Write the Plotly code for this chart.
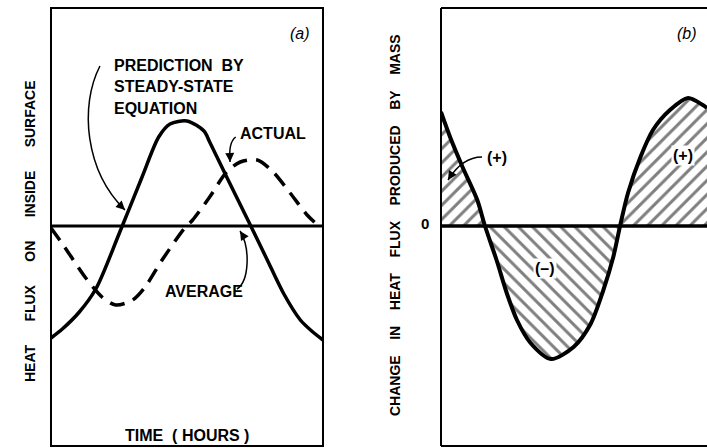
import plotly.graph_objects as go

# (a) heat flux on inside surface, hours vs. arbitrary flux units (0 = average)
pred_hours = [0, 1, 2.5, 4, 6, 8, 9.5, 10.5, 12, 13.5, 14, 15.5, 17.5, 19, 20.5, 22, 23, 24]
pred_flux = [-11.2, -10.3, -8.6, -6.2, -0.8, 4.8, 8.9, 10.2, 10.5, 9.5, 8.4, 4.9, 0.3, -3.2, -6.7, -9.4, -10.5, -11.4]

actual_hours = [0, 1.2, 3.0, 4.5, 5.7, 7.2, 8.3, 9.8, 11.8, 12.5, 14.0, 15.5, 16.7, 18.2, 19.6, 21.1, 22.6, 23.7]
actual_flux = [-0.2, -2.1, -5.1, -7.1, -7.9, -7.4, -6.1, -3.4, -0.2, 0.6, 2.9, 5.4, 6.4, 6.6, 5.4, 3.3, 1.1, -0.1]

# (b) change in heat flux produced by mass
mass_hours = [0, 0.8, 1.9, 3.2, 3.88, 4.9, 5.8, 6.7, 7.9, 9.7, 11.7, 13.2, 14.3, 15.2, 15.8, 16.5, 17.6, 18.7, 20.2, 21.8, 23.1, 23.47]
mass_change = [11.4, 8.9, 5.9, 2.6, 0, -3.4, -6.7, -9.4, -11.7, -13.3, -12.1, -9.8, -6.5, -3.1, 0, 3.3, 6.9, 9.6, 11.6, 12.8, 12.1, 11.8]

FONT = "Liberation Sans"
Y_RANGE = [-22, 21.8]


def signed_runs(xs, ys):
    # split the curve into runs of one sign; zero crossings belong to both sides
    runs, cur = [], [(xs[0], ys[0])]
    for x, y in zip(xs[1:], ys[1:]):
        cur.append((x, y))
        if y == 0:
            runs.append(cur)
            cur = [(x, y)]
    if len(cur) > 1:
        runs.append(cur)
    return runs


fig = go.Figure()

# hatched areas in (b)
for run in signed_runs(mass_hours, mass_change):
    xs = [p[0] for p in run]
    ys = [p[1] for p in run]
    shape = "/" if max(ys) > 0 else "\\"
    fig.add_trace(go.Scatter(
        x=xs, y=ys, xaxis="x2", yaxis="y2", mode="lines",
        line={"width": 0, "shape": "spline", "smoothing": 0.8},
        fill="tozeroy", fillcolor="white",
        fillpattern={"shape": shape, "fgcolor": "black", "bgcolor": "white", "size": 10, "solidity": 0.3},
        hoverinfo="skip",
    ))

fig.add_trace(go.Scatter(
    x=mass_hours, y=mass_change, xaxis="x2", yaxis="y2", mode="lines",
    line={"color": "black", "width": 4, "shape": "spline", "smoothing": 0.8},
))

fig.add_trace(go.Scatter(
    x=pred_hours, y=pred_flux, mode="lines",
    line={"color": "black", "width": 3.5, "shape": "spline", "smoothing": 0.8},
))
fig.add_trace(go.Scatter(
    x=actual_hours, y=actual_flux, mode="lines",
    line={"color": "black", "width": 3.5, "dash": "15px,9px", "shape": "spline", "smoothing": 0.8},
))

shapes = [
    # panel frames
    dict(type="rect", xref="x domain", yref="y domain", x0=0, x1=1, y0=0, y1=1, line={"color": "black", "width": 2}),
    dict(type="line", xref="x2 domain", yref="y2 domain", x0=0, x1=0, y0=0, y1=1, line={"color": "black", "width": 2}),
    dict(type="line", xref="x2 domain", yref="y2 domain", x0=0, x1=1, y0=1, y1=1, line={"color": "black", "width": 2}),
    dict(type="line", xref="x2 domain", yref="y2 domain", x0=0, x1=1, y0=0, y1=0, line={"color": "black", "width": 2}),
    # average / zero lines
    dict(type="line", xref="x domain", yref="y", x0=0, x1=1, y0=0, y1=0, line={"color": "black", "width": 3}),
    dict(type="line", xref="x2 domain", yref="y2", x0=0, x1=1, y0=0, y1=0, line={"color": "black", "width": 3.5}),
    # curved leader lines
    dict(type="path", xref="x", yref="y", path="M 4.32,16.0 C 2.5,12 3.0,5.5 6.53,1.6", line={"color": "black", "width": 1.5}),
    dict(type="path", xref="x", yref="y", path="M 16.3,8.9 C 15.8,8.5 15.7,7.6 15.8,6.4", line={"color": "black", "width": 1.5}),
    dict(type="path", xref="x", yref="y", path="M 16.41,-6.3 C 17.5,-5.5 17.6,-2.2 16.68,-0.5", line={"color": "black", "width": 1.5}),
    dict(type="path", xref="x2", yref="y2", path="M 3.62,6.9 C 2.6,6.9 1.5,6.2 0.62,4.6", line={"color": "black", "width": 1.5}),
]

txt = {"family": FONT, "size": 16, "color": "black", "weight": "bold"}
ttl = {"family": FONT, "size": 14, "color": "black", "weight": "bold"}
ital = {"family": FONT, "size": 16, "color": "black"}
annotations = [
    dict(xref="x", yref="y", x=5.38, y=16.1, text="PREDICTION\u00a0\u00a0BY", xanchor="left", showarrow=False, font=txt),
    dict(xref="x", yref="y", x=5.38, y=14.0, text="STEADY-STATE", xanchor="left", showarrow=False, font=txt),
    dict(xref="x", yref="y", x=5.38, y=11.8, text="EQUATION", xanchor="left", showarrow=False, font=txt),
    dict(xref="x", yref="y", x=16.5, y=9.3, text="ACTUAL", xanchor="left", showarrow=False, font=txt),
    dict(xref="x", yref="y", x=9.88, y=-6.5, text="AVERAGE", xanchor="left", showarrow=False, font=txt),
    dict(xref="x", yref="y", x=12.0, y=-20.9, text="TIME\u00a0\u00a0(\u00a0HOURS\u00a0)", showarrow=False, font=txt),
    dict(xref="x", yref="y", x=21.97, y=19.3, text="<i>(a)</i>", showarrow=False, font=ital),
    dict(xref="x2", yref="y2", x=21.7, y=19.3, text="<i>(b)</i>", showarrow=False, font=ital),
    dict(xref="x2", yref="y2", x=4.94, y=6.9, text="(+)", showarrow=False, font=txt),
    dict(xref="x2", yref="y2", x=21.35, y=7.1, text="(+)", showarrow=False, font=txt, bgcolor="white"),
    dict(xref="x2", yref="y2", x=9.18, y=-4.2, text="(\u2013)", showarrow=False, font=txt, bgcolor="white"),
    dict(xref="paper", yref="y", x=20 / 707, y=-0.5, textangle=-90, showarrow=False, font=ttl,
         text=("\u00a0" * 6).join(["HEAT", "FLUX", "ON", "INSIDE", "SURFACE"])),
    dict(xref="paper", yref="y", x=395 / 707, y=0.1, textangle=-90, showarrow=False, font=ttl,
         text=("\u00a0" * 4).join(["CHANGE", "IN", "HEAT", "FLUX", "PRODUCED", "BY", "MASS"])),
    dict(xref="paper", yref="y", x=425 / 707, y=0.3, text="0", showarrow=False, font={**ttl, "size": 15}),
]

# arrowheads at the ends of the leader lines
for tip, tail, ref in [((6.53, 1.6), (6.03, 2.15), ("x", "y")),
                       ((15.8, 6.4), (15.78, 7.0), ("x", "y")),
                       ((16.68, -0.5), (16.93, -0.95), ("x", "y")),
                       ((0.62, 4.6), (1.0, 5.3), ("x2", "y2"))]:
    annotations.append(dict(
        xref=ref[0], yref=ref[1], axref=ref[0], ayref=ref[1],
        x=tip[0], y=tip[1], ax=tail[0], ay=tail[1], text="",
        showarrow=True, arrowhead=2, arrowsize=1.2, arrowwidth=1.5, arrowcolor="black",
    ))

fig.update_layout(
    width=707,
    height=448,
    margin={"l": 0, "r": 0, "t": 8, "b": 2},
    paper_bgcolor="white",
    plot_bgcolor="white",
    showlegend=False,
    xaxis={"domain": [51 / 707, 323 / 707], "range": [0, 24], "visible": False},
    yaxis={"domain": [0, 1], "range": Y_RANGE, "visible": False},
    xaxis2={"domain": [441 / 707, 1], "range": [0, 23.47], "visible": False, "anchor": "y2"},
    yaxis2={"domain": [0, 1], "range": Y_RANGE, "visible": False, "anchor": "x2"},
    shapes=shapes,
    annotations=annotations,
)

fig.write_html(
    "out.html",
    config={"displayModeBar": False},
    post_script="document.body.style.margin = '0'; document.body.style.overflow = 'hidden';",
)
